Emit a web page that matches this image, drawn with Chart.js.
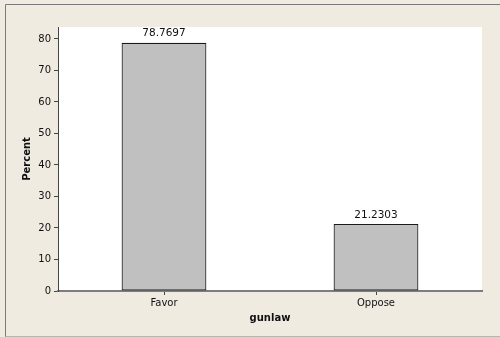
<!DOCTYPE html>
<html>
<head>
<meta charset="utf-8">
<script src="https://cdn.jsdelivr.net/npm/chart.js@4"></script>
<style>
  html, body { margin: 0; padding: 0; background: #efebe1; }
  canvas { display: block; }
</style>
</head>
<body>
<canvas id="grafico" width="500" height="337"></canvas>
<script>
// datos
const categorias = ['Favor', 'Oppose'];
const porcentajes = [78.7697, 21.2303];
const etiquetasY = [0, 10, 20, 30, 40, 50, 60, 70, 80];

const fondo = '#efebe1';
const fuente = 'DejaVu Sans';

// fondo beige, borde exterior y zona blanca del grafico
const pluginFondo = {
  id: 'fondo',
  beforeDraw(chart) {
    const { ctx, chartArea } = chart;
    ctx.save();
    ctx.fillStyle = fondo;
    ctx.fillRect(0, 0, chart.width, chart.height);
    ctx.strokeStyle = '#7a7a7a';
    ctx.lineWidth = 1;
    ctx.beginPath();
    ctx.moveTo(5.5, chart.height);
    ctx.lineTo(5.5, 4.5);
    ctx.lineTo(chart.width, 4.5);
    ctx.stroke();
    ctx.strokeStyle = '#b8b6ae';
    ctx.beginPath();
    ctx.moveTo(5.5, 336.5);
    ctx.lineTo(chart.width, 336.5);
    ctx.stroke();
    ctx.fillStyle = '#ffffff';
    ctx.fillRect(chartArea.left, chartArea.top, chartArea.right - chartArea.left, chartArea.bottom - chartArea.top);
    ctx.restore();
  }
};

// valores encima de cada barra
const pluginValores = {
  id: 'valores',
  afterDatasetsDraw(chart) {
    const { ctx } = chart;
    const meta = chart.getDatasetMeta(0);
    ctx.save();
    ctx.fillStyle = '#111';
    ctx.font = '10.5px "' + fuente + '"';
    ctx.textAlign = 'center';
    ctx.textBaseline = 'bottom';
    meta.data.forEach((barra, i) => {
      ctx.fillText(String(porcentajes[i]), barra.x, barra.y - 4);
    });
    ctx.restore();
  }
};

new Chart(document.getElementById('grafico'), {
  type: 'bar',
  data: {
    labels: categorias,
    datasets: [{
      data: porcentajes,
      backgroundColor: '#c0c0c0',
      borderColor: '#1a1a1a',
      borderWidth: 1.2,
      borderSkipped: false,
      barPercentage: 0.4,
      categoryPercentage: 1
    }]
  },
  options: {
    responsive: false,
    animation: false,
    devicePixelRatio: 1,
    layout: { padding: { top: 27, right: 18, left: 0, bottom: 0 } },
    plugins: {
      legend: { display: false },
      tooltip: { enabled: false }
    },
    scales: {
      x: {
        afterFit(scale) { scale.height = 46; },
        grid: { display: true, offset: false, drawOnChartArea: false, tickLength: 4, tickColor: '#444', lineWidth: 1 },
        border: { display: true, color: '#7d7d7d', width: 2 },
        ticks: { color: '#111', padding: 2, font: { family: fuente, size: 10 } },
        title: {
          display: true,
          text: 'gunlaw',
          color: '#111',
          padding: { top: 0, bottom: 13 },
          font: { family: fuente, size: 10, weight: 'bold' }
        }
      },
      y: {
        min: 0,
        max: 83.8,
        afterFit(scale) { scale.width = 58; },
        afterBuildTicks(scale) { scale.ticks = etiquetasY.map(v => ({ value: v })); },
        grid: { display: true, drawOnChartArea: false, tickLength: 4, tickColor: '#444', lineWidth: 1 },
        border: { display: true, color: '#444', width: 1 },
        ticks: { color: '#111', padding: 3, font: { family: fuente, size: 10 } },
        title: {
          display: true,
          text: 'Percent',
          color: '#111',
          padding: { top: 21, bottom: 0 },
          font: { family: fuente, size: 10, weight: 'bold' }
        }
      }
    }
  },
  plugins: [pluginFondo, pluginValores]
});
</script>
</body>
</html>
